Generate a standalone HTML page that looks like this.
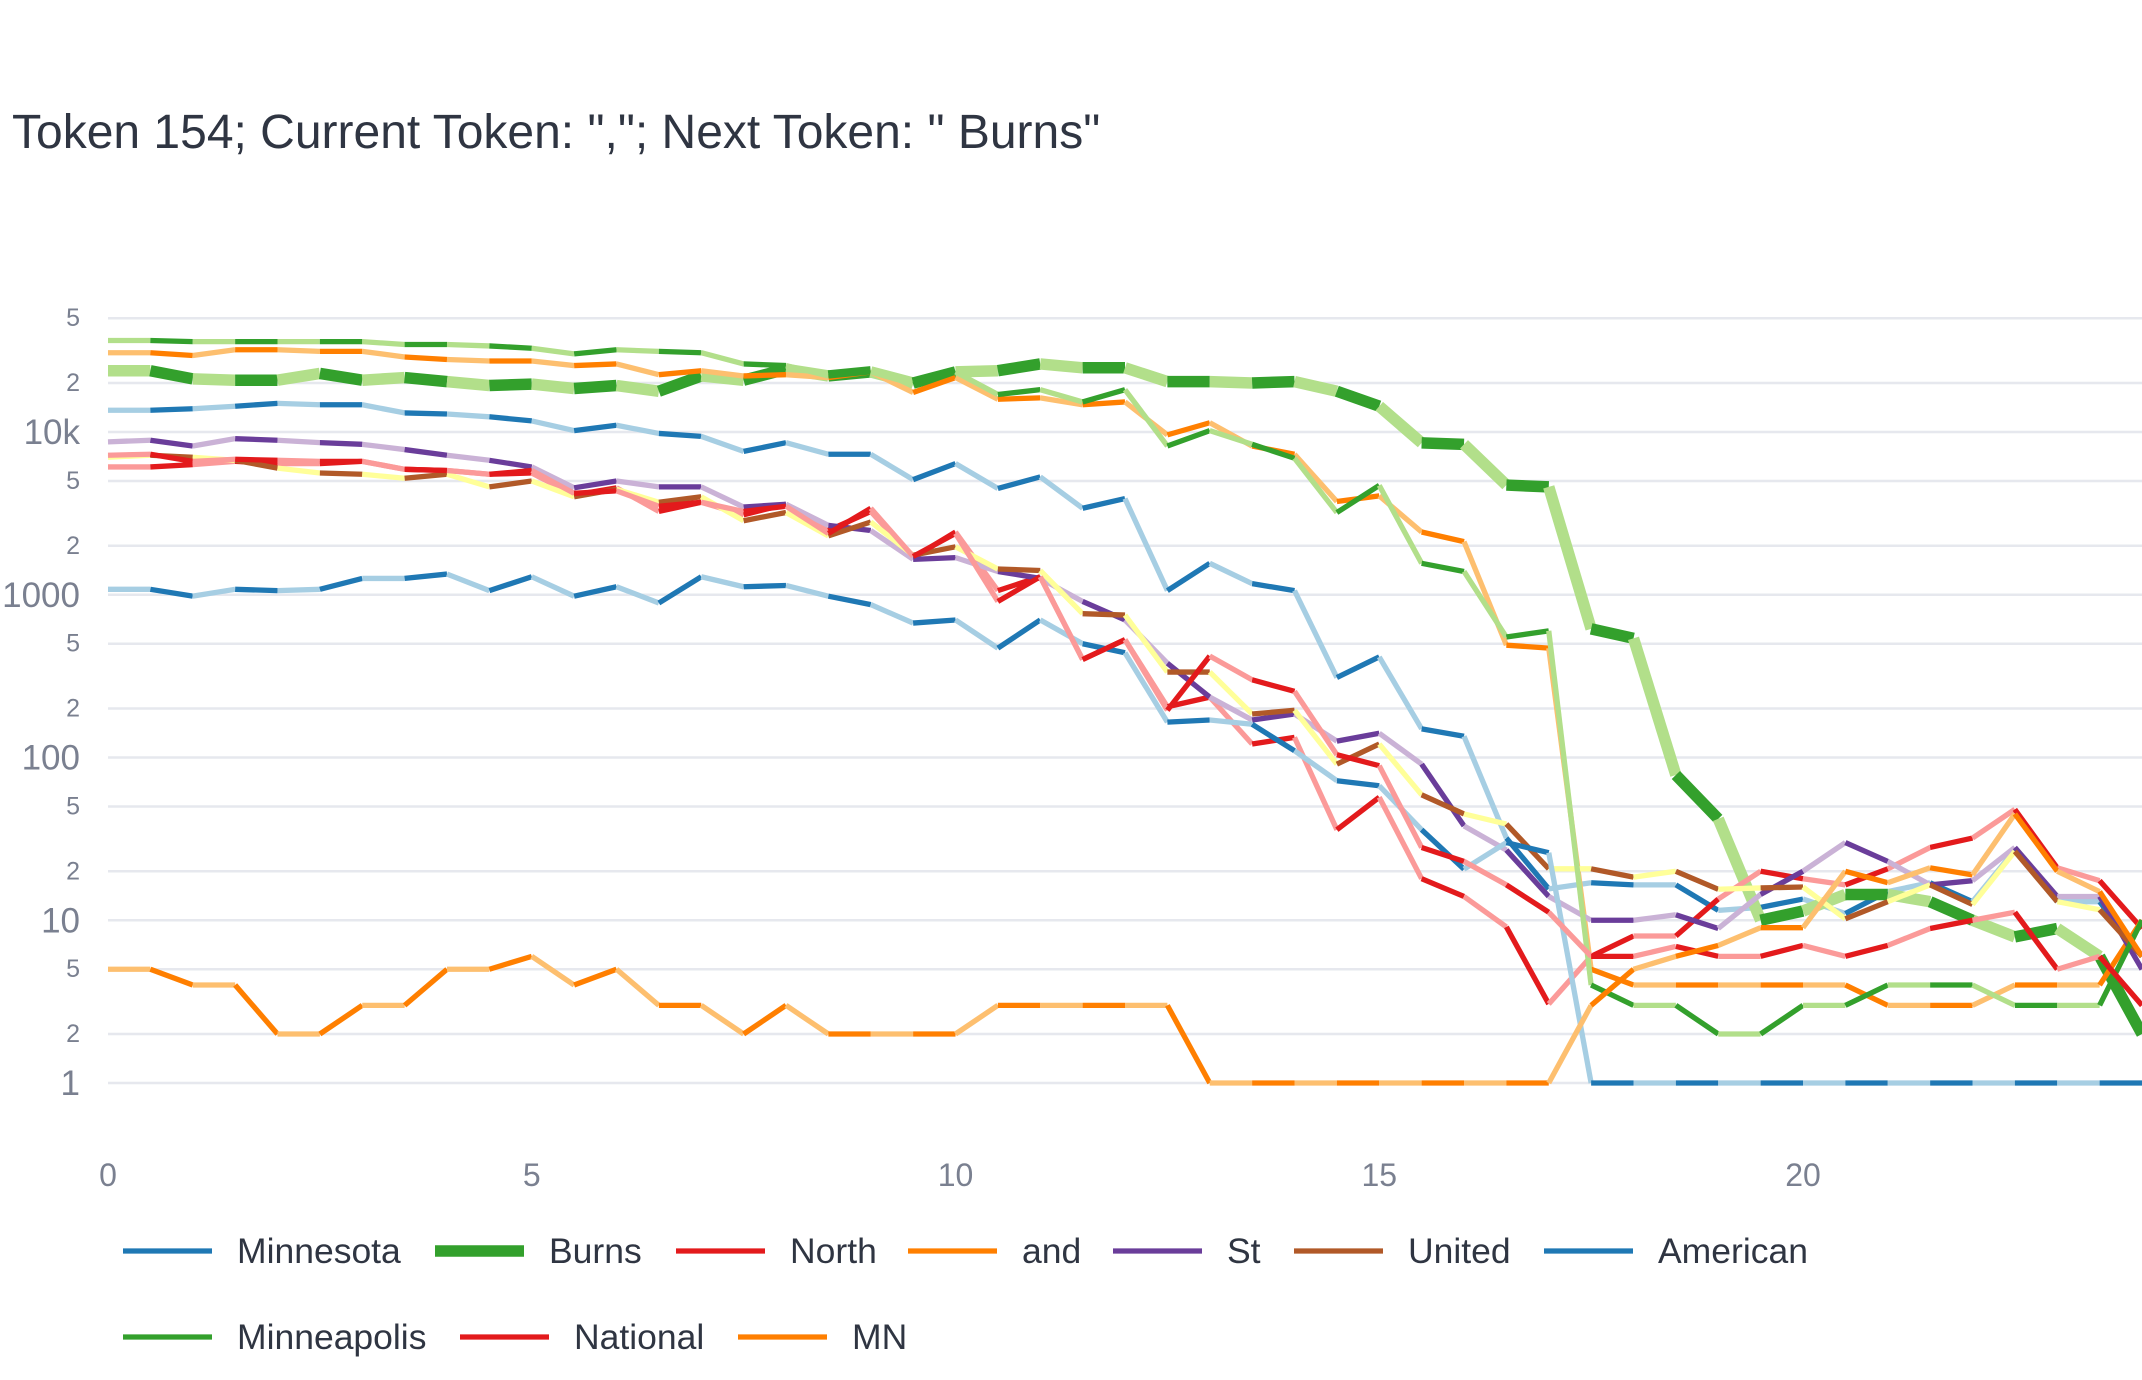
<!DOCTYPE html>
<html><head><meta charset="utf-8">
<style>
html,body{margin:0;padding:0;background:#fff;}
svg{display:block;font-family:"Liberation Sans",Arial,sans-serif;}
</style></head>
<body>
<svg id="chart" width="2142" height="1380" viewBox="0 0 2142 1380" xmlns="http://www.w3.org/2000/svg">
<text x="12" y="148" font-size="48" fill="#2f3542">Token 154; Current Token: ","; Next Token: " Burns"</text>
<g id="grid"></g>
<g id="yaxis"></g>
<g id="xaxis"></g>
<g id="plot"></g>
<g id="legend"></g>
</svg>
<script>
const yTickValues = [1,2,5,10,20,50,100,200,500,1000,2000,5000,10000,20000,50000];
const yTickLabels = ["1","2","5","10","2","5","100","2","5","1000","2","5","10k","2","5"];
const xTickValues = [0,5,10,15,20];
const xTickLabels = ["0","5","10","15","20"];
const seriesNames = ["Minnesota","Burns","North","and","St","United","American","Minneapolis","National","MN"];
const minnesota = [13600,13600,13900,14400,15000,14700,14700,13100,12900,12400,11700,10200,11000,9800,9400,7600,8600,7300,7300,5100,6400,4500,5300,3400,3900,1060,1560,1170,1060,310,415,150,135,32,15.6,17,16.5,16.5,11.5,12,13.5,11,15,17,13,27,13,13,6];
const burns = [23800,23800,21200,20800,20800,22900,20800,21600,20400,19300,19700,18500,19300,17800,22100,20800,24300,22100,23400,20000,23400,23800,26200,24800,24800,20400,20400,20000,20400,17800,14400,8570,8400,4720,4600,617,540,78,42,10,11.4,14.4,14.4,13,10,7.9,8.9,6,2];
const north = [6100,6100,6300,6600,6400,6400,6600,5900,5800,5500,5600,4100,4540,3250,3700,3100,3600,2480,3250,1690,2430,1060,1290,400,530,205,235,121,133,36,57,18,14,9.1,3.06,6,8,8,13.5,20,18,16.5,20.7,28,32,48,21,17.5,8.9];
const andVals = [30700,30700,29500,32000,32000,31300,31300,28900,27900,27300,27300,25600,26200,22500,23800,22100,22500,21600,23400,17500,21600,15900,16200,14700,15300,9600,11400,8200,7300,3740,4050,2430,2120,490,470,5,4,4,4,4,4,4,3,3,3,4,4,4,10];
const st = [8700,8900,8200,9100,8900,8600,8400,7800,7200,6700,6100,4540,5000,4600,4600,3460,3600,2670,2480,1650,1690,1390,1260,910,700,380,235,170,185,126,141,91,38,27,14,10,10,10.8,8.9,14.4,20,30,23,16.5,17.5,28,14,14,5];
const united = [7000,7200,7000,6700,6000,5600,5500,5200,5500,4600,5000,4000,4450,3700,4000,2850,3200,2300,2800,1750,1970,1440,1410,765,750,335,335,185,195,91,121,59,45,39,20.7,20.7,18.4,20,15.5,15.8,16,10.2,13,16.5,12.5,26.5,13,11.6,6];
const american = [1080,1080,980,1080,1060,1080,1260,1260,1340,1060,1290,980,1120,890,1290,1120,1140,980,870,670,700,470,700,500,440,165,170,160,110,72,67,36,20.6,30,26,1,1,1,1,1,1,1,1,1,1,1,1,1,1];
const minneapolis = [36500,36500,35900,35900,35900,35900,35900,34500,34500,33800,32700,30200,32000,31300,30700,26200,25600,22100,23400,19700,23400,17000,18200,15300,18200,8200,10200,8400,6900,3200,4700,1560,1390,550,600,4,3,3,2,2,3,3,4,4,4,3,3,3,10];
const national = [7200,7300,6600,6800,6700,6600,6600,5900,5800,5500,5800,4200,4350,3500,3700,3250,3500,2380,3400,1720,2380,910,1290,400,530,195,420,300,255,104,89,28,23,16.5,11.2,6,6,6.9,6,6,7,6,7,8.9,10,11.2,5,6,3];
const mn = [5,5,4,4,2,2,3,3,5,5,6,4,5,3,3,2,3,2,2,2,2,3,3,3,3,3,1,1,1,1,1,1,1,1,1,3,5,6,7,9,9,20,17,21,19,45,20,15,6];
const xStep = 0.5;

const NS = "http://www.w3.org/2000/svg";
const X0 = 108, XU = 84.75, Y1 = 1083, YD = 162.75;
function xS(u){ return X0 + u * XU; }
function yS(v){ return Y1 - YD * Math.log10(v); }
function mk(tag, attrs, parent){
  const e = document.createElementNS(NS, tag);
  for (const k in attrs) e.setAttribute(k, attrs[k]);
  parent.appendChild(e); return e;
}
const grid = document.getElementById('grid');
const yaxis = document.getElementById('yaxis');
const xaxis = document.getElementById('xaxis');
const plot = document.getElementById('plot');
const legend = document.getElementById('legend');

yTickValues.forEach((v, i) => {
  const y = yS(v);
  const gl = mk('line', {x1: X0, x2: 2142, y1: y, y2: y, stroke: '#e6e8ee', 'stroke-width': 2.5}, grid);
  
  
  const major = yTickLabels[i].length > 1 || v === 1;
  const t = mk('text', {x: 80, y: y + (major ? 12 : 8), 'text-anchor': 'end', 'font-size': major ? 35 : 25, fill: '#7a8090'}, yaxis);
  t.textContent = yTickLabels[i];
  
  
});
xTickValues.forEach((v, i) => {
  const t = mk('text', {x: xS(v), y: 1186, 'text-anchor': 'middle', 'font-size': 32, fill: '#7a8090'}, xaxis);
  t.textContent = xTickLabels[i];
  
  
});

const seriesData = [minnesota, burns, north, andVals, st, united, american, minneapolis, national, mn];
const pal = {
  blue: ['#a6cee3', '#1f78b4'], green: ['#b2df8a', '#33a02c'], red: ['#fb9a99', '#e31a1c'],
  orange: ['#fdbf6f', '#ff7f00'], purple: ['#cab2d6', '#6a3d9a'], brown: ['#ffff99', '#b15928']
};
const seriesColors = [pal.blue, pal.green, pal.red, pal.orange, pal.purple, pal.brown, pal.blue, pal.green, pal.red, pal.orange];
const seriesWidths = [5.3, 11.5, 5.3, 5.3, 5.3, 5.3, 5.3, 5.3, 5.3, 5.3];

seriesData.forEach((vals, s) => {
  const g = mk('g', {}, plot);
  
  
  for (let i = 0; i < vals.length - 1; i++) {
    const seg = mk('line', {
      x1: xS(i * xStep), y1: yS(vals[i]), x2: xS((i + 1) * xStep), y2: yS(vals[i + 1]),
      stroke: seriesColors[s][i % 2], 'stroke-width': seriesWidths[s], 'stroke-linecap': 'butt'
    }, g);
    
    
  }
});

const legendPos = [[123,1251],[435,1251],[676,1251],[908,1251],[1113,1251],[1294,1251],[1544,1251],[123,1337],[460,1337],[738,1337]];
seriesNames.forEach((n, s) => {
  const [lx, ly] = legendPos[s];
  const g = mk('g', {}, legend);
  
  
  mk('line', {x1: lx, x2: lx + 89, y1: ly, y2: ly, stroke: seriesColors[s][1], 'stroke-width': seriesWidths[s]}, g);
  const t = mk('text', {x: lx + 114, y: ly + 12, 'font-size': 35.5, fill: '#2f3542'}, g);
  t.textContent = n;
});
</script>
</body></html>
